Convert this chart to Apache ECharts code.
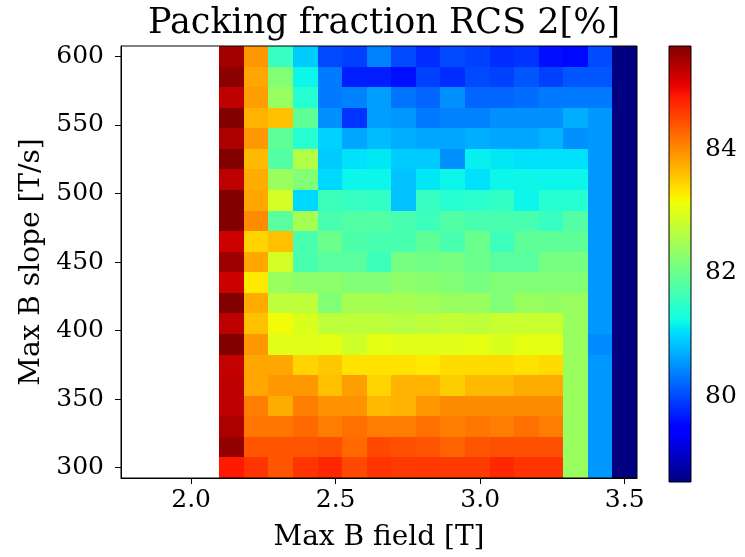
<!DOCTYPE html>
<html>
<head>
<meta charset="utf-8">
<script src="https://cdn.jsdelivr.net/npm/echarts@6/dist/echarts.min.js"></script>
<style>
html,body{margin:0;padding:0;background:#fff;}
#chart{width:745px;height:557px;}
</style>
</head>
<body>
<div id="chart"></div>
<script>
// ---- data ----
var titleText = 'Packing fraction RCS 2[%]';
var xName = 'Max B field [T]';
var yName = 'Max B slope [T/s]';
var xValues = [1.8, 1.885, 1.97, 2.055, 2.14, 2.225, 2.31, 2.395, 2.48, 2.565, 2.65, 2.735, 2.82, 2.905, 2.99, 3.075, 3.16, 3.245, 3.33, 3.415, 3.5];
var yValues = [600, 585, 570, 555, 540, 525, 510, 495, 480, 465, 450, 435, 420, 405, 390, 375, 360, 345, 330, 315, 300];
var xTicks = [2.0, 2.5, 3.0, 3.5];
var yTicks = [300, 350, 400, 450, 500, 550, 600];
var cbTicks = [80, 82, 84];
var vMin = 78.62, vMax = 85.67;
var N = null;
// rows ordered as yValues (top to bottom); first four columns empty
var row600 = [N,N,N,N, 85.45, 83.9, 81.55, 80.9, 80.0, 79.95, 80.4, 80.0, 79.8, 80.0, 79.95, 79.8, 79.85, 79.6, 79.55, 80.0, 78.62];
var row585 = [N,N,N,N, 85.6, 83.8, 82.2, 81.2, 80.35, 79.7, 79.7, 79.6, 79.95, 79.8, 80.0, 79.95, 80.1, 79.95, 80.1, 80.1, 78.62];
var row570 = [N,N,N,N, 85.3, 83.85, 82.4, 81.4, 80.35, 80.4, 80.6, 80.3, 80.2, 80.5, 80.2, 80.2, 80.25, 80.35, 80.35, 80.35, 78.62];
var row555 = [N,N,N,N, 85.65, 83.7, 83.6, 81.9, 80.5, 79.85, 80.6, 80.55, 80.35, 80.4, 80.4, 80.5, 80.5, 80.5, 80.7, 80.55, 78.62];
var row540 = [N,N,N,N, 85.4, 83.9, 81.9, 81.4, 80.95, 80.65, 80.8, 80.7, 80.65, 80.65, 80.7, 80.65, 80.65, 80.75, 80.5, 80.55, 78.62];
var row525 = [N,N,N,N, 85.67, 83.65, 81.8, 82.6, 80.9, 81.05, 81.1, 80.9, 80.9, 80.5, 81.15, 81.1, 81.05, 81.05, 81.05, 80.55, 78.62];
var row510 = [N,N,N,N, 85.3, 83.75, 82.4, 82.2, 81.0, 81.2, 81.2, 80.85, 81.1, 81.2, 81.05, 81.2, 81.2, 81.2, 81.2, 80.55, 78.62];
var row495 = [N,N,N,N, 85.67, 83.8, 82.9, 81.0, 81.6, 81.55, 81.5, 80.85, 81.55, 81.4, 81.45, 81.5, 81.2, 81.4, 81.4, 80.55, 78.62];
var row480 = [N,N,N,N, 85.65, 84.0, 81.85, 82.5, 81.7, 81.8, 81.8, 81.7, 81.6, 81.8, 81.7, 81.7, 81.7, 81.55, 81.8, 80.55, 78.62];
var row465 = [N,N,N,N, 85.2, 83.45, 83.6, 81.7, 82.0, 81.75, 81.7, 81.7, 81.9, 81.7, 82.0, 81.6, 81.9, 81.9, 81.9, 80.55, 78.62];
var row450 = [N,N,N,N, 85.5, 83.8, 82.9, 81.7, 81.85, 81.85, 81.6, 82.1, 82.05, 82.1, 82.0, 81.85, 81.85, 82.1, 82.1, 80.55, 78.62];
var row435 = [N,N,N,N, 85.2, 83.3, 82.4, 82.3, 82.3, 82.2, 82.2, 82.3, 82.25, 82.2, 82.1, 82.2, 82.2, 82.2, 82.2, 80.55, 78.62];
var row420 = [N,N,N,N, 85.67, 83.75, 82.7, 82.7, 82.2, 82.5, 82.5, 82.5, 82.45, 82.4, 82.4, 82.2, 82.4, 82.35, 82.4, 80.55, 78.62];
var row405 = [N,N,N,N, 85.3, 83.6, 83.15, 82.95, 82.7, 82.7, 82.7, 82.65, 82.7, 82.75, 82.7, 82.8, 82.8, 82.8, 82.4, 80.55, 78.62];
var row390 = [N,N,N,N, 85.67, 83.9, 83.0, 83.0, 83.05, 82.85, 83.05, 83.0, 83.0, 83.0, 83.05, 82.95, 83.05, 83.05, 82.4, 80.45, 78.62];
var row375 = [N,N,N,N, 85.25, 83.8, 83.8, 83.45, 83.55, 83.35, 83.35, 83.35, 83.3, 83.4, 83.4, 83.4, 83.35, 83.4, 82.4, 80.55, 78.62];
var row360 = [N,N,N,N, 85.3, 83.8, 83.9, 83.9, 83.6, 83.85, 83.45, 83.7, 83.7, 83.5, 83.65, 83.65, 83.75, 83.75, 82.4, 80.55, 78.62];
var row345 = [N,N,N,N, 85.3, 84.1, 83.75, 84.1, 83.95, 83.95, 83.65, 83.7, 83.9, 84.0, 84.0, 84.0, 84.0, 84.0, 82.4, 80.55, 78.62];
var row330 = [N,N,N,N, 85.4, 84.15, 84.15, 84.25, 84.1, 84.2, 84.1, 84.1, 84.2, 84.1, 84.15, 84.1, 84.2, 84.1, 82.4, 80.55, 78.62];
var row315 = [N,N,N,N, 85.55, 84.4, 84.4, 84.4, 84.45, 84.25, 84.5, 84.45, 84.4, 84.3, 84.4, 84.45, 84.45, 84.45, 82.4, 80.55, 78.62];
var row300 = [N,N,N,N, 84.85, 84.65, 84.4, 84.65, 84.75, 84.5, 84.65, 84.6, 84.62, 84.6, 84.6, 84.75, 84.65, 84.65, 82.4, 80.55, 78.62];
var rows = [row600, row585, row570, row555, row540, row525, row510, row495, row480, row465, row450, row435, row420, row405, row390, row375, row360, row345, row330, row315, row300];

// ---- jet colormap (matplotlib segment data) ----
function seg(pts, t){
  for (var i=1;i<pts.length;i++){
    if (t <= pts[i][0]) {
      var a = pts[i-1], b = pts[i];
      return a[1] + (b[1]-a[1]) * (t-a[0])/(b[0]-a[0]);
    }
  }
  return pts[pts.length-1][1];
}
var R = [[0,0],[0.35,0],[0.66,1],[0.89,1],[1,0.5]];
var G = [[0,0],[0.125,0],[0.375,1],[0.64,1],[0.91,0],[1,0]];
var B = [[0,0.5],[0.11,1],[0.34,1],[0.65,0],[1,0]];
function jet(t){
  return 'rgb(' + Math.round(255*seg(R,t)) + ',' + Math.round(255*seg(G,t)) + ',' + Math.round(255*seg(B,t)) + ')';
}
var jetColors = [];
for (var i=0;i<=255;i++) jetColors.push(jet(i/255));
var gradStops = [];
for (var i=0;i<=100;i++) gradStops.push({offset: i/100, color: jet(1 - i/100)});

// ---- build series data ----
var cells = [];
for (var r=0;r<yValues.length;r++){
  for (var c=0;c<xValues.length;c++){
    var v = rows[r][c];
    if (v !== null) cells.push([xValues[c], yValues[r], v]);
  }
}
var halfX = (xValues[1]-xValues[0])/2;
var halfY = Math.abs(yValues[0]-yValues[1])/2;
var xMin = xValues[0]-halfX, xMax = xValues[xValues.length-1]+halfX;
var yMin = yValues[yValues.length-1]-halfY, yMax = yValues[0]+halfY;

var FONT = 'DejaVu Serif';
var chart = echarts.init(document.getElementById('chart'), null, {renderer:'canvas'});
chart.setOption({
  animation: false,
  backgroundColor: '#fff',
  title: {
    text: titleText, left: 379, top: 1, textAlign: 'center',
    textStyle: {fontFamily: FONT, fontSize: 35, fontWeight: 'normal', color: '#000'}
  },
  grid: [
    {left: 121, top: 46, width: 516, height: 436, show: true, borderColor: '#000', borderWidth: 1, backgroundColor: 'transparent', z: 5},
    {left: 669, top: 46, width: 22, height: 436, show: true, borderColor: '#000', borderWidth: 1, backgroundColor: 'transparent', z: 5}
  ],
  xAxis: [
    {type: 'value', gridIndex: 0, min: xMin, max: xMax,
     name: xName, nameLocation: 'middle', nameGap: 46,
     nameTextStyle: {fontFamily: FONT, fontSize: 28, color: '#000'},
     axisLine: {show: true, lineStyle: {color: '#000', width: 1}},
     axisTick: {show: true, length: 6, lineStyle: {color: '#000', width: 1}, customValues: xTicks},
     axisLabel: {fontFamily: FONT, fontSize: 25, color: '#000', margin: 10, customValues: xTicks,
                 formatter: function(v){ return v.toFixed(1); }},
     splitLine: {show: false}},
    {type: 'value', gridIndex: 1, min: 0, max: 1, show: false}
  ],
  yAxis: [
    {type: 'value', gridIndex: 0, min: yMin, max: yMax,
     name: yName, nameLocation: 'middle', nameGap: 73, nameRotate: 90,
     nameTextStyle: {fontFamily: FONT, fontSize: 28, color: '#000'},
     axisLine: {show: true, lineStyle: {color: '#000', width: 1}},
     axisTick: {show: true, length: 6, lineStyle: {color: '#000', width: 1}, customValues: yTicks},
     axisLabel: {fontFamily: FONT, fontSize: 25, color: '#000', margin: 17, customValues: yTicks,
                 formatter: function(v){ return String(Math.round(v)); }},
     splitLine: {show: false}},
    {type: 'value', gridIndex: 1, min: vMin, max: vMax, position: 'right',
     axisLine: {show: false},
     axisTick: {show: true, length: 6, lineStyle: {color: '#000', width: 1}, customValues: cbTicks},
     axisLabel: {fontFamily: FONT, fontSize: 25, color: '#000', margin: 14, customValues: cbTicks,
                 formatter: function(v){ return String(Math.round(v)); }},
     splitLine: {show: false}}
  ],
  visualMap: {
    type: 'continuous', show: false, seriesIndex: 0, dimension: 2,
    min: vMin, max: vMax, inRange: {color: jetColors}
  },
  series: [
    {
      type: 'custom', xAxisIndex: 0, yAxisIndex: 0, data: cells, z: 2,
      renderItem: function(params, api){
        var x = api.value(0), y = api.value(1);
        var p1 = api.coord([x-halfX, y+halfY]);
        var p2 = api.coord([x+halfX, y-halfY]);
        var x1 = Math.round(p1[0]), y1 = Math.round(p1[1]);
        var x2 = Math.round(p2[0]), y2 = Math.round(p2[1]);
        return {type: 'rect', shape: {x: x1, y: y1, width: x2-x1, height: y2-y1},
                style: {fill: api.visual('color')}};
      }
    },
    {
      type: 'custom', xAxisIndex: 1, yAxisIndex: 1, data: [[0, vMin, 1, vMax]], z: 2,
      renderItem: function(params, api){
        var p1 = api.coord([api.value(0), api.value(3)]);
        var p2 = api.coord([api.value(2), api.value(1)]);
        return {type: 'rect', shape: {x: p1[0], y: p1[1], width: p2[0]-p1[0], height: p2[1]-p1[1]},
                style: {fill: new echarts.graphic.LinearGradient(0, 0, 0, 1, gradStops)}};
      }
    }
  ]
});
</script>
</body>
</html>
